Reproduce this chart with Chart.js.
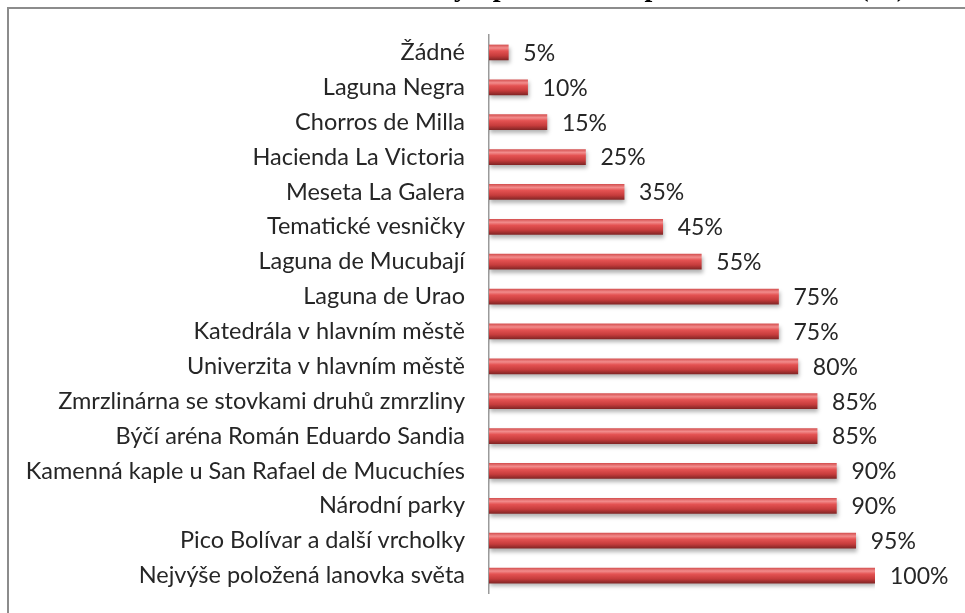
<!DOCTYPE html>
<html><head><meta charset="utf-8">
<script src="https://cdn.jsdelivr.net/npm/chart.js@4"></script>
<style>
html,body{margin:0;padding:0;background:#fff;overflow:hidden;width:965px;height:613px}
#frame{position:absolute;left:7px;top:7px;width:1000px;height:700px;border:2px solid #8c8c8c;box-sizing:border-box}
#wrap{position:absolute;left:0;top:0;width:965px;height:613px}
</style></head><body>
<div id="frame"></div>
<div id="wrap"><canvas id="c"></canvas></div>
<script>
const titleText = "Atraktivity s potenciálem pro cestovní ruch (%)";
const categories = [
  "Žádné",
  "Laguna Negra",
  "Chorros de Milla",
  "Hacienda La Victoria",
  "Meseta La Galera",
  "Tematické vesničky",
  "Laguna de Mucubají",
  "Laguna de Urao",
  "Katedrála v hlavním městě",
  "Univerzita v hlavním městě",
  "Zmrzlinárna se stovkami druhů zmrzliny",
  "Býčí aréna Román Eduardo Sandia",
  "Kamenná kaple u San Rafael de Mucuchíes",
  "Národní parky",
  "Pico Bolívar a další vrcholky",
  "Nejvýše položená lanovka světa"
];
const values = [5, 10, 15, 25, 35, 45, 55, 75, 75, 80, 85, 85, 90, 90, 95, 100];
const valueSuffix = "%";

const FONT = "Lato, 'Open Sans', sans-serif";

function barFill(c) {
  const chart = c.chart;
  const ys = chart.scales && chart.scales.y;
  if (!ys || c.dataIndex === undefined) return '#c94040';
  const y = ys.getPixelForValue(c.dataIndex);
  if (!isFinite(y)) return '#c94040';
  const g = chart.ctx.createLinearGradient(0, y - 7.5, 0, y + 7.5);
  g.addColorStop(0, '#d65454');
  g.addColorStop(0.2, '#f28c8c');
  g.addColorStop(0.4, '#e45252');
  g.addColorStop(0.72, '#c63c3c');
  g.addColorStop(1, '#852626');
  return g;
}

const shadowPlugin = {
  id: 'shadow',
  beforeDatasetDraw(chart) {
    const ctx = chart.ctx;
    ctx.save();
    ctx.shadowColor = 'rgba(0,0,0,0.3)';
    ctx.shadowBlur = 4;
    ctx.shadowOffsetX = 1;
    ctx.shadowOffsetY = 3;
  },
  afterDatasetDraw(chart) {
    chart.ctx.restore();
  }
};

const labelPlugin = {
  id: 'valueLabels',
  afterDatasetsDraw(chart) {
    const ctx = chart.ctx;
    const meta = chart.getDatasetMeta(0);
    ctx.save();
    ctx.font = "23px " + FONT;
    ctx.fillStyle = '#262626';
    ctx.textAlign = 'left';
    ctx.textBaseline = 'middle';
    meta.data.forEach((el, i) => {
      ctx.fillText(values[i] + valueSuffix, el.x + 15, el.y + 1);
    });
    ctx.restore();
  }
};

const titlePlugin = {
  id: 'cutTitle',
  afterDraw(chart) {
    const ctx = chart.ctx;
    ctx.save();
    ctx.font = "bold 28px 'Liberation Serif', serif";
    ctx.fillStyle = '#000';
    ctx.textAlign = 'right';
    ctx.textBaseline = 'alphabetic';
    ctx.fillText(titleText, 906, -4);
    ctx.restore();
  }
};

Chart.defaults.font.family = FONT;

new Chart(document.getElementById('c'), {
  type: 'bar',
  data: {
    labels: categories,
    datasets: [{
      data: values,
      backgroundColor: barFill,
      borderWidth: 0,
      barThickness: 15
    }]
  },
  options: {
    indexAxis: 'y',
    responsive: true,
    maintainAspectRatio: false,
    animation: false,
    layout: { padding: { top: 35, bottom: 20, right: 90, left: 0 } },
    plugins: { legend: { display: false }, tooltip: { enabled: false }, title: { display: false } },
    scales: {
      x: { display: false, min: 0, max: 100 },
      y: {
        afterFit(axis) { axis.width = 489; axis.paddingTop = 0; axis.paddingBottom = 0; },
        grid: { display: true, drawOnChartArea: false, drawTicks: false },
        border: { display: true, color: '#9a9a9a', width: 1.5 },
        ticks: { color: '#262626', font: { size: 23.5, family: FONT }, padding: 24, autoSkip: false }
      }
    }
  },
  plugins: [shadowPlugin, labelPlugin, titlePlugin]
});
</script>
</body></html>
